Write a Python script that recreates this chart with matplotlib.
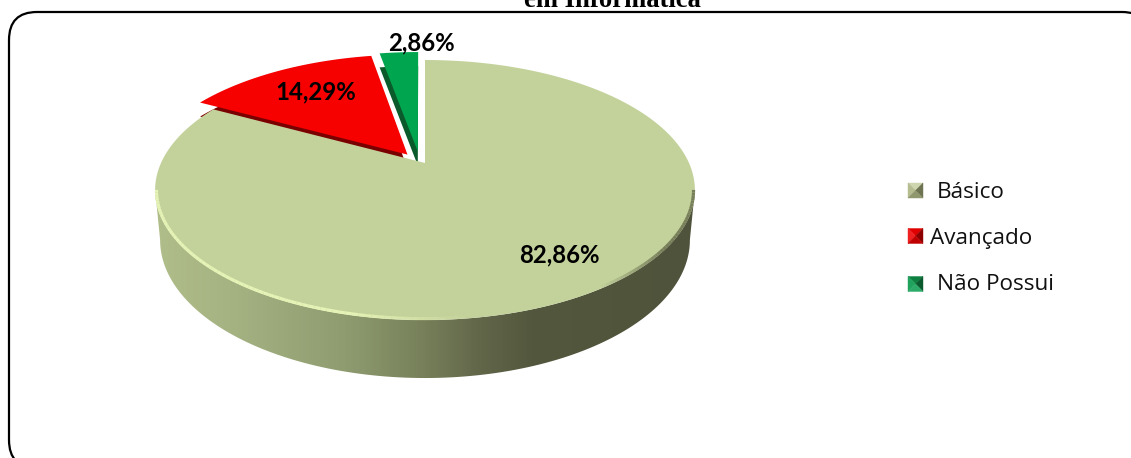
import numpy as np
import matplotlib
matplotlib.use("Agg")
import matplotlib.pyplot as plt
from matplotlib.patches import Polygon, FancyBboxPatch
from matplotlib.collections import LineCollection
from matplotlib.colors import LinearSegmentedColormap, to_rgb
from matplotlib.transforms import Affine2D

categories = ["Básico", "Avançado", "Não Possui"]
values = [82.86, 14.29, 2.86]
explode = [0.0, 0.095, 0.095]
title_line = "em Informática"

W, H = 1131, 458
fig = plt.figure(figsize=(W / 100, H / 100), dpi=100)
ax = fig.add_axes([0, 0, 1, 1])

wedges, _ = ax.pie(values, explode=explode, startangle=90, counterclock=False, radius=1.0)
ax.set_aspect("auto")
ax.set_xlim(0, W)
ax.set_ylim(H, 0)
ax.axis("off")

# perspective view of the disc
CX, CY, A, B, K = 425.0, 163.0, 124.4, 264.0, 0.2077


def project(pts):
    d = 1 + K * pts[:, 1]
    return np.column_stack([CX + B * pts[:, 0] / d, CY - A * pts[:, 1] / d])


def bottom(pts):
    return np.column_stack([425 + (pts[:, 0] - 425) * 265 / 270,
                            240 + (pts[:, 1] - 190) * 138 / 130])


def wedge_polys(w):
    tr = w.get_patch_transform() + Affine2D().scale(1000)
    raw = np.concatenate(w.get_path().to_polygons(tr, closed_only=False)) / 1000
    c = np.array(w.center)
    return raw, np.hypot(*(raw - c).T) > 0.98


raw = [wedge_polys(w) for w in wedges]
for w in wedges:
    w.set_visible(False)

top_face = "#C3D29B"
red, red_dark = "#F60000", "#7A0000"
green, green_dark = "#00A64F", "#0B5A2B"

# frame
frame = FancyBboxPatch((9, 12), 1141, 456, boxstyle="round,pad=0,rounding_size=28",
                       fc="white", ec="black", lw=1.6, zorder=0, clip_on=True)
ax.add_patch(frame)

# green slice
g = project(raw[2][0]) + [-5, 0]
ax.add_patch(Polygon(g + [0, 14], closed=True, fc=green_dark, ec="none", zorder=2))
ax.add_patch(Polygon(g, closed=True, fc=green, ec="none", zorder=3))

# red slice
r = project(raw[1][0]) + [-3, 1]
ax.add_patch(Polygon(r + [0, 14], closed=True, fc=red_dark, ec="none", zorder=4))
ax.add_patch(Polygon(r, closed=True, fc=red, ec="none", zorder=5))

# large slice: side with gradient, only the front part of the rim
bas = project(raw[0][0])
arc = bas[raw[0][1]]
i0, i1 = sorted((int(np.argmin(arc[:, 0])), int(np.argmax(arc[:, 0]))))
front = arc[i0:i1 + 1]
strip = np.vstack([front, bottom(front)[::-1]])
side = Polygon(strip, closed=True, fc="none", ec="none", zorder=6)
ax.add_patch(side)
cmap = LinearSegmentedColormap.from_list("side", [
    (0.00, "#B0BE8A"), (0.15, "#A4B181"), (0.35, "#8F9C70"), (0.50, "#767F59"),
    (0.60, "#62674A"), (0.70, "#53573D"), (1.00, "#4F533B")])
im = ax.imshow(np.linspace(0, 1, 540)[None, :], extent=(155, 695, 380, 100), cmap=cmap,
               aspect="auto", zorder=6, interpolation="bilinear")
im.set_clip_path(side)
ax.set_xlim(0, W)
ax.set_ylim(H, 0)

# large slice: top
ax.add_patch(Polygon(bas, closed=True, fc=top_face, ec="none", zorder=7))

# bevel along the rim
inner = CX + (front[:, 0] - CX) * 0.995, 190 + (front[:, 1] - 190) * 0.99
inner = np.column_stack(inner)
segs = np.stack([inner[:-1], inner[1:]], axis=1)
mx = segs[:, :, 0].mean(axis=1)
hi, dk = np.array(to_rgb("#E6F3B6")), np.array(to_rgb("#6F7553"))
cols = []
for x in mx:
    if x < 470:
        cols.append((*hi, min(1.0, (470 - x) / 120)))
    elif x > 600:
        cols.append((*dk, min(0.9, (x - 600) / 70)))
    else:
        cols.append((*hi, 0.0))
ax.add_collection(LineCollection(segs, colors=cols, linewidths=2.3, zorder=8))

# value labels
label_pos = [(559, 255), (316, 92), (421, 43)]
for v, (x, y) in zip(values, label_pos):
    ax.text(x, y, f"{v:.2f}%".replace(".", ","), ha="center", va="center",
            fontsize=17.3, fontweight="bold", family="Lato", color="black", zorder=10)

# title, cut by the top of the picture
ax.text(612.5, 7, title_line, ha="center", va="baseline", fontsize=19.2, fontweight="bold",
        family="Liberation Serif", color="black", zorder=10)

# legend
key_cols = [("#CDD6AE", "#B5BD90", "#6E7352", "#8F976F"),
            ("#E00000", "#F02020", "#8C0000", "#C00000"),
            ("#0E8040", "#1FA35C", "#0A5A2E", "#2CAA68")]
key_y = [190.5, 236, 284]
text_x = [937, 930, 937]
text_base = [198, 244, 290]
s = 7.5
kx = 915.5
for name, (t, l, rr, b), y, tx, by in zip(categories, key_cols, key_y, text_x, text_base):
    c = (kx, y)
    tl, tr_, br, bl = (kx - s, y - s), (kx + s, y - s), (kx + s, y + s), (kx - s, y + s)
    for tri, col in (((tl, tr_, c), t), ((tl, bl, c), l), ((tr_, br, c), rr), ((bl, br, c), b)):
        ax.add_patch(Polygon(tri, closed=True, fc=col, ec=col, lw=0.3, zorder=9))
    ax.text(tx, by, name, ha="left", va="baseline", fontsize=16.2, family="Open Sans",
            color="#111111", zorder=10)

fig.savefig("out.png", dpi=100)
